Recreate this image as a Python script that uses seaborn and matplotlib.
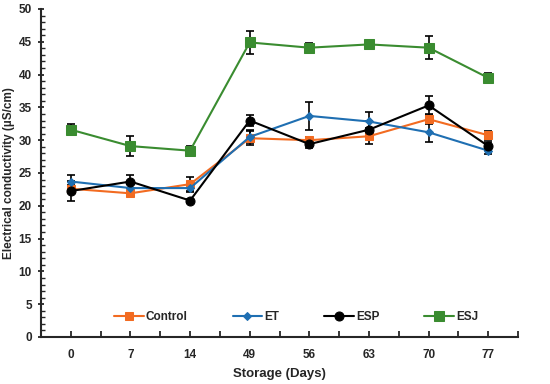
import pandas as pd
import numpy as np
import matplotlib
matplotlib.use('Agg')
import matplotlib.pyplot as plt
import seaborn as sns
from matplotlib.ticker import MultipleLocator

days = ['0', '7', '14', '49', '56', '63', '70', '77']
control = [22.6, 21.9, 23.3, 30.3, 30.0, 30.6, 33.2, 30.75]
control_err = [0.5, 0.4, 1.1, 1.1, 0.5, 1.2, 0.8, 0.7]
et = [23.7, 22.7, 22.7, 30.5, 33.7, 32.85, 31.2, 28.4]
et_err = [1.0, 0.6, 0.6, 1.0, 2.1, 1.4, 1.5, 0.5]
esp = [22.25, 23.7, 20.8, 33.0, 29.4, 31.6, 35.3, 29.1]
esp_err = [1.5, 1.0, 0.3, 0.9, 0.6, 1.4, 1.5, 0.6]
esj = [31.6, 29.1, 28.4, 44.9, 44.1, 44.6, 44.1, 39.5]
esj_err = [0.8, 1.5, 0.7, 1.7, 0.7, 0.3, 1.8, 0.7]

series = {'Control': (control, control_err, '#f26b21', 's', 6),
          'ET': (et, et_err, '#1f6fb2', 'D', 4),
          'ESP': (esp, esp_err, 'black', 'o', 6.5),
          'ESJ': (esj, esj_err, '#3a8c30', 's', 6.5)}

sns.set_style('ticks')
plt.rcParams['font.family'] = ['Liberation Sans Narrow', 'Liberation Sans', 'DejaVu Sans']
plt.rcParams['font.weight'] = 'bold'

fig = plt.figure(figsize=(5.5, 3.84), dpi=100)
ax = fig.add_axes([0.0745, 0.1224, 0.8675, 0.8542])

pos = np.arange(len(days))
for name, (vals, errs, col, mk, ms) in series.items():
    df = pd.DataFrame({'x': pos, 'y': vals})
    ax.errorbar(pos, vals, yerr=errs, fmt='none', ecolor='black', elinewidth=1.2,
                capsize=3, capthick=1.2, zorder=2)
    sns.lineplot(data=df, x='x', y='y', ax=ax, color=col, marker=mk, markersize=ms,
                 markeredgecolor=col, linewidth=1.5, label=name, zorder=3)

ax.set_xlim(-0.5, 7.5)
ax.set_ylim(0, 50)
ax.set_xticks(pos)
ax.set_xticklabels(days)
ax.xaxis.set_minor_locator(MultipleLocator(0.5))
ax.yaxis.set_major_locator(MultipleLocator(5))
ax.yaxis.set_minor_locator(MultipleLocator(1))
ax.tick_params(axis='x', which='both', direction='in', length=4, width=1.3, pad=9, labelsize=8.5)
ax.tick_params(axis='y', which='major', direction='inout', length=5, width=1.3, pad=4, labelsize=8.5)
ax.tick_params(axis='y', which='minor', direction='in', length=3, width=1)
sns.despine(ax=ax)
for s in ['left', 'bottom']:
    ax.spines[s].set_linewidth(1.5)
ax.set_xlabel('Storage (Days)', fontsize=9.5, fontweight='bold')
ax.set_ylabel('Electrical conductivity (µS/cm)', fontsize=8.5, fontweight='bold')
ax.xaxis.set_label_coords(0.5, -0.095)
ax.yaxis.set_label_coords(-0.054, 0.5)
ax.legend(loc='center', bbox_to_anchor=(0.535, 0.06), ncol=4, frameon=False,
          fontsize=8.5, columnspacing=3.8, handlelength=2.5, handletextpad=0.2)

plt.savefig('out.png', dpi=100)
